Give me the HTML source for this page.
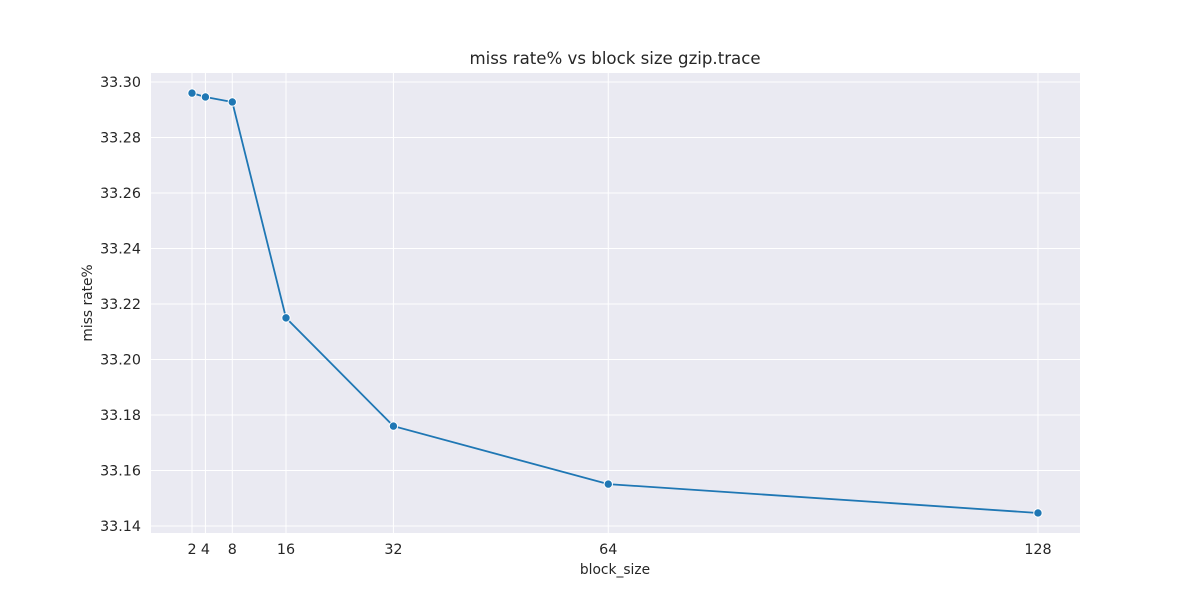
<!DOCTYPE html>
<html><head><meta charset="utf-8"><style>
body{margin:0;background:#fff;font-family:"DejaVu Sans","Liberation Sans",sans-serif;}
svg text{font-family:"DejaVu Sans","Liberation Sans",sans-serif;fill:#262626;}
</style></head><body>
<svg id="chart" width="1200" height="600" xmlns="http://www.w3.org/2000/svg">
<rect x="151" y="73" width="929" height="460" fill="#eaeaf2"/>
<g id="grid"></g><g id="ticks"></g><g id="series"></g>
<text x="615" y="64" font-size="16.6" text-anchor="middle">miss rate% vs block size gzip.trace</text>
<text x="615" y="574" font-size="13.8" text-anchor="middle">block_size</text>
<text transform="translate(92,303) rotate(-90)" font-size="13.8" text-anchor="middle">miss rate%</text>
</svg>
<script>
const blockSizes=[2,4,8,16,32,64,128];
const missRates=[33.2960,33.2946,33.2928,33.2150,33.1760,33.1551,33.1447];
const yTicks=[33.14,33.16,33.18,33.20,33.22,33.24,33.26,33.28,33.30];
const xTicks=[2,4,8,16,32,64,128];
const L=151,R=1080,T=73,B=533;
const x0=-4.107,x1=134.26,y0=33.13748,y1=33.30324;
function sx(v){return L+(v-x0)/(x1-x0)*(R-L);}
function sy(v){return B-(v-y0)/(y1-y0)*(B-T);}
const NS="http://www.w3.org/2000/svg";
function mk(t,a,p){const e=document.createElementNS(NS,t);for(const k in a)e.setAttribute(k,a[k]);p.appendChild(e);return e;}
const g=document.getElementById('grid'),tk=document.getElementById('ticks'),s=document.getElementById('series');
yTicks.forEach(v=>{
 const l=mk('line',{x1:L,x2:R,y1:sy(v),y2:sy(v),stroke:'#fff','stroke-width':1},g);
 
 
 const t=mk('text',{x:L-10,y:sy(v)+5,'font-size':14.3,'text-anchor':'end'},tk);
 t.textContent=v.toFixed(2);
 
 
});
xTicks.forEach(v=>{
 const l=mk('line',{x1:sx(v),x2:sx(v),y1:T,y2:B,stroke:'#fff','stroke-width':1},g);
 
 
 const t=mk('text',{x:sx(v),y:B+21,'font-size':14.3,'text-anchor':'middle'},tk);
 t.textContent=v;
 
 
});
const pts=blockSizes.map((b,i)=>sx(b)+','+sy(missRates[i])).join(' ');
const pl=mk('polyline',{points:pts,fill:'none',stroke:'#1f77b4','stroke-width':1.8},s);


blockSizes.forEach((b,i)=>{
 const c=mk('circle',{cx:sx(b),cy:sy(missRates[i]),r:4.2,fill:'#1f77b4',stroke:'#fff','stroke-width':1},s);
 
 
});
</script>
</body></html>
